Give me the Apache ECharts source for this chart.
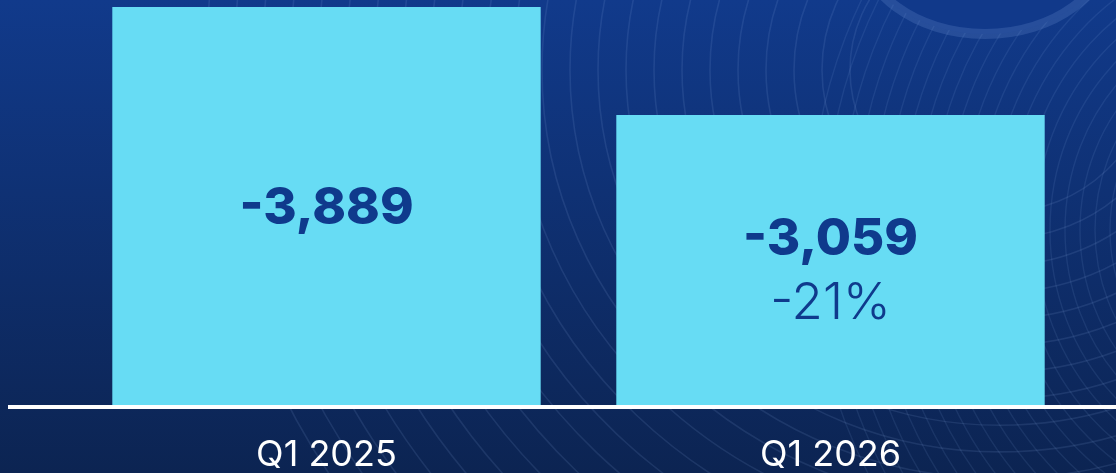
<!DOCTYPE html>
<html>
<head>
<meta charset="utf-8">
<style>
  html, body { margin: 0; padding: 0; background: #0d2656; }
  #chart { width: 1116px; height: 473px; }
</style>
<script src="https://cdn.jsdelivr.net/npm/echarts@6/dist/echarts.min.js"></script>
</head>
<body>
<div id="chart"></div>
<script>
// Net change by quarter
const categories = ['Q1 2025', 'Q1 2026'];
const values = [-3889, -3059];
const changeLabels = ['', '-21%'];

const BAR = '#67dcf4';
const INK = '#0f3a8c';
const W = 1116, H = 473;

const chart = echarts.init(document.getElementById('chart'), null, { renderer: 'canvas' });

// Decorative line-art in the background: concentric ellipses fanning from the top right
const deco = [];
for (let r = 150; r <= 820; r += 28) {
  deco.push({
    type: 'ellipse', silent: true, z: -5,
    shape: { cx: 1000, cy: 70, rx: r, ry: r * 0.95 },
    style: { fill: null, stroke: 'rgba(150,180,235,0.13)', lineWidth: 1.6 }
  });
}
for (let r = 120; r <= 460; r += 15) {
  deco.push({
    type: 'ellipse', silent: true, z: -5,
    shape: { cx: 1260, cy: 230, rx: r, ry: r * 1.1 },
    style: { fill: null, stroke: 'rgba(150,180,235,0.11)', lineWidth: 1.4 }
  });
}
const graphics = [
  {
    type: 'rect', silent: true, z: -10,
    shape: { x: 0, y: 0, width: W, height: H },
    style: {
      fill: new echarts.graphic.LinearGradient(0, 0, 0, 1, [
        { offset: 0, color: '#113a8b' },
        { offset: 1, color: '#0c2452' }
      ])
    }
  },
  ...deco,
  {
    type: 'ellipse', silent: true, z: -4,
    shape: { cx: 985, cy: -58, rx: 125, ry: 92 },
    style: { fill: '#11398a', stroke: 'rgba(120,155,220,0.22)', lineWidth: 10 }
  },
  {
    type: 'line', silent: true, z: 20,
    shape: { x1: 8, y1: 407, x2: W, y2: 407 },
    style: { stroke: '#ffffff', lineWidth: 4 }
  }
];

chart.setOption({
  backgroundColor: 'transparent',
  animation: false,
  graphic: graphics,
  grid: { left: 74.5, right: 33.5, top: 7, bottom: 66 },
  xAxis: {
    type: 'category',
    data: categories,
    axisLine: { show: false },
    axisTick: { show: false },
    axisLabel: {
      color: '#ffffff',
      fontFamily: 'Inter',
      fontWeight: 400,
      fontSize: 36,
      margin: 32
    }
  },
  yAxis: {
    type: 'value',
    min: 830,
    max: 3889,
    show: false,
    splitLine: { show: false }
  },
  series: [{
    type: 'bar',
    barCategoryGap: '15%',
    data: values.map((v, i) => ({
      value: Math.abs(v), raw: v, change: changeLabels[i],
      label: { offset: changeLabels[i] ? [0, 12] : [0, 3] }
    })),
    itemStyle: { color: BAR },
    label: {
      show: true,
      position: 'inside',
      formatter: p => {
        const txt = '{v|' + p.data.raw.toLocaleString('en-US') + '}';
        return p.data.change ? txt + '\n{p|' + p.data.change + '}' : txt;
      },
      rich: {
        v: { fontFamily: 'Inter', fontWeight: 800, fontSize: 51, color: INK, lineHeight: 64 },
        p: { fontFamily: 'Inter', fontWeight: 300, fontSize: 51, color: INK, lineHeight: 64 }
      }
    }
  }]
});
</script>
</body>
</html>
